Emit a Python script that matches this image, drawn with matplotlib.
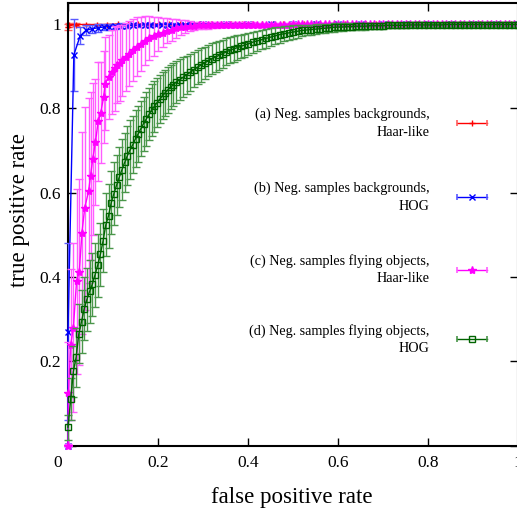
import matplotlib
matplotlib.use('Agg')
import matplotlib.pyplot as plt
import matplotlib.transforms as mtransforms

plt.rcParams['font.family'] = ['Liberation Serif', 'DejaVu Serif']

# (a) backgrounds, Haar-like
red_x = [0.0, 0.002, 0.018, 0.041, 0.064, 0.087, 0.11, 0.133, 0.156, 0.179,
         0.202, 0.225, 0.248, 0.271, 0.294, 0.317, 0.34, 0.363, 0.386, 0.409,
         0.432, 0.455, 0.478, 0.501, 0.524, 0.547, 0.57, 0.593, 0.616, 0.639,
         0.662, 0.685, 0.708, 0.731, 0.754, 0.777, 0.8, 0.823, 0.846, 0.869,
         0.892, 0.915, 0.938, 0.961, 0.984, 1.0]
red_y = [0.994, 0.998, 0.999, 0.999, 0.999, 0.999, 1.0, 1.0, 1.0, 1.0,
         1.0, 1.0, 1.0, 1.0, 1.0, 1.0, 1.0, 1.0, 1.0, 1.0,
         1.0, 1.0, 1.0, 1.0, 1.0, 1.0, 1.0, 1.0, 1.0, 1.0,
         1.0, 1.0, 1.0, 1.0, 1.0, 1.0, 1.0, 1.0, 1.0, 1.0,
         1.0, 1.0, 1.0, 1.0, 1.0, 1.0]
red_err = [0.007, 0.004, 0.003, 0.002, 0.002, 0.002, 0.001, 0.001, 0.001, 0.001,
           0.001, 0.001, 0.001, 0.001, 0.001, 0.001, 0.001, 0.001, 0.001, 0.001,
           0.001, 0.001, 0.001, 0.001, 0.001, 0.001, 0.001, 0.001, 0.001, 0.001,
           0.001, 0.001, 0.001, 0.001, 0.001, 0.001, 0.001, 0.001, 0.001, 0.001,
           0.001, 0.001, 0.001, 0.001, 0.001, 0.001]

# (b) backgrounds, HOG
blue_x = [0.0, 0.0, 0.013, 0.027, 0.04, 0.053, 0.066, 0.079, 0.092, 0.105,
          0.118, 0.131, 0.144, 0.157, 0.17, 0.183, 0.196, 0.209, 0.222, 0.235,
          0.248, 0.261, 0.274, 0.3, 0.35, 0.4, 0.45, 0.5, 0.55, 0.6,
          0.65, 0.7, 0.75, 0.8, 0.85, 0.9, 0.95, 1.0]
blue_y = [0.0, 0.27, 0.927, 0.972, 0.985, 0.989, 0.991, 0.993, 0.994, 0.995,
          0.996, 0.996, 0.997, 0.997, 0.998, 0.998, 0.998, 0.999, 0.999, 0.999,
          0.999, 0.999, 1.0, 1.0, 1.0, 1.0, 1.0, 1.0, 1.0, 1.0,
          1.0, 1.0, 1.0, 1.0, 1.0, 1.0, 1.0, 1.0]
blue_err = [0.0, 0.21, 0.085, 0.02, 0.012, 0.01, 0.009, 0.008, 0.007, 0.006,
            0.006, 0.005, 0.005, 0.004, 0.004, 0.004, 0.003, 0.003, 0.003, 0.003,
            0.002, 0.002, 0.002, 0.002, 0.001, 0.001, 0.001, 0.001, 0.001, 0.001,
            0.001, 0.001, 0.001, 0.001, 0.001, 0.001, 0.001, 0.001]

# (c) flying objects, Haar-like
mag_x = [0.0, 0.001, 0.006, 0.012, 0.019, 0.025, 0.031, 0.037, 0.046, 0.05,
         0.055, 0.061, 0.067, 0.073, 0.079, 0.083, 0.09, 0.098, 0.104, 0.109,
         0.115, 0.12, 0.128, 0.135, 0.144, 0.153, 0.162, 0.171, 0.18, 0.19,
         0.2, 0.21, 0.22, 0.23, 0.24, 0.25, 0.26, 0.27, 0.28, 0.29,
         0.3, 0.31, 0.32, 0.33, 0.34, 0.35, 0.36, 0.37, 0.38, 0.39,
         0.4, 0.41, 0.42, 0.43, 0.44, 0.45, 0.46, 0.47, 0.48, 0.49,
         0.5, 0.51, 0.52, 0.53, 0.54, 0.55, 0.56, 0.57, 0.58, 0.59,
         0.6, 0.61, 0.62, 0.63, 0.64, 0.65, 0.66, 0.67, 0.68, 0.69,
         0.7, 0.71, 0.72, 0.73, 0.74, 0.75, 0.76, 0.77, 0.78, 0.79,
         0.8, 0.81, 0.82, 0.83, 0.84, 0.85, 0.86, 0.87, 0.88, 0.89,
         0.9, 0.91, 0.92, 0.93, 0.94, 0.95, 0.96, 0.97, 0.98, 0.99, 1.0]
mag_y = [0.0, 0.125, 0.24, 0.28, 0.39, 0.412, 0.505, 0.563, 0.605, 0.64,
         0.68, 0.72, 0.769, 0.79, 0.827, 0.859, 0.875, 0.886, 0.895, 0.902,
         0.908, 0.914, 0.922, 0.93, 0.938, 0.946, 0.953, 0.96, 0.966, 0.971,
         0.976, 0.98, 0.984, 0.987, 0.99, 0.992, 0.994, 0.995, 0.996, 0.997,
         0.997, 0.997, 0.998, 0.998, 0.998, 0.998, 0.998, 0.999, 0.999, 0.999,
         0.999, 0.999, 0.999, 0.999, 0.999, 0.999, 0.999, 0.999, 0.999, 0.999,
         1.0, 1.0, 1.0, 1.0, 1.0, 1.0, 1.0, 1.0, 1.0, 1.0,
         1.0, 1.0, 1.0, 1.0, 1.0, 1.0, 1.0, 1.0, 1.0, 1.0,
         1.0, 1.0, 1.0, 1.0, 1.0, 1.0, 1.0, 1.0, 1.0, 1.0,
         1.0, 1.0, 1.0, 1.0, 1.0, 1.0, 1.0, 1.0, 1.0, 1.0,
         1.0, 1.0, 1.0, 1.0, 1.0, 1.0, 1.0, 1.0, 1.0, 1.0, 1.0]
mag_err = [0.0, 0.12, 0.18, 0.2, 0.22, 0.22, 0.24, 0.24, 0.22, 0.2,
           0.18, 0.15, 0.14, 0.12, 0.11, 0.11, 0.1, 0.1, 0.1, 0.09,
           0.09, 0.085, 0.08, 0.077, 0.074, 0.07, 0.064, 0.058, 0.052, 0.046,
           0.04, 0.035, 0.03, 0.026, 0.022, 0.018, 0.015, 0.012, 0.01, 0.009,
           0.008, 0.008, 0.007, 0.007, 0.006, 0.006, 0.006, 0.005, 0.005, 0.005,
           0.005, 0.005, 0.004, 0.004, 0.004, 0.004, 0.004, 0.004, 0.004, 0.004,
           0.004, 0.003, 0.003, 0.003, 0.003, 0.003, 0.003, 0.003, 0.003, 0.003,
           0.003, 0.003, 0.003, 0.003, 0.003, 0.003, 0.003, 0.003, 0.003, 0.003,
           0.003, 0.003, 0.003, 0.003, 0.003, 0.003, 0.003, 0.003, 0.003, 0.003,
           0.003, 0.003, 0.003, 0.003, 0.003, 0.003, 0.003, 0.003, 0.003, 0.003,
           0.003, 0.003, 0.003, 0.003, 0.003, 0.003, 0.003, 0.003, 0.003, 0.003, 0.003]

# (d) flying objects, HOG
grn_x = [0.0, 0.006, 0.012, 0.018, 0.024, 0.03, 0.036, 0.042, 0.048, 0.054,
         0.06, 0.066, 0.072, 0.078, 0.084, 0.09, 0.096, 0.102, 0.108, 0.114,
         0.12, 0.126, 0.132, 0.138, 0.144, 0.15, 0.156, 0.162, 0.168, 0.174,
         0.18, 0.186, 0.192, 0.198, 0.204, 0.21, 0.216, 0.222, 0.228, 0.234,
         0.24, 0.248, 0.256, 0.264, 0.272, 0.28, 0.288, 0.296, 0.304, 0.312,
         0.32, 0.328, 0.336, 0.344, 0.352, 0.36, 0.368, 0.376, 0.384, 0.392,
         0.4, 0.41, 0.42, 0.43, 0.44, 0.45, 0.46, 0.47, 0.48, 0.49,
         0.5, 0.51, 0.52, 0.53, 0.54, 0.55, 0.56, 0.57, 0.58, 0.59,
         0.6, 0.61, 0.62, 0.63, 0.64, 0.65, 0.66, 0.67, 0.68, 0.69,
         0.7, 0.71, 0.72, 0.73, 0.74, 0.75, 0.76, 0.77, 0.78, 0.79,
         0.8, 0.81, 0.82, 0.83, 0.84, 0.85, 0.86, 0.87, 0.88, 0.89,
         0.9, 0.91, 0.92, 0.93, 0.94, 0.95, 0.96, 0.97, 0.98, 0.99, 1.0]
grn_y = [0.044, 0.111, 0.176, 0.21, 0.265, 0.294, 0.325, 0.347, 0.366, 0.383,
         0.405, 0.428, 0.454, 0.486, 0.524, 0.545, 0.576, 0.598, 0.618, 0.637,
         0.655, 0.672, 0.688, 0.702, 0.714, 0.728, 0.74, 0.752, 0.764, 0.775,
         0.786, 0.796, 0.805, 0.814, 0.822, 0.83, 0.837, 0.844, 0.85, 0.856,
         0.862, 0.868, 0.874, 0.88, 0.886, 0.892, 0.898, 0.903, 0.908, 0.913,
         0.918, 0.922, 0.926, 0.93, 0.934, 0.938, 0.941, 0.944, 0.947, 0.95,
         0.953, 0.957, 0.96, 0.963, 0.966, 0.969, 0.972, 0.975, 0.977, 0.979,
         0.981, 0.983, 0.985, 0.986, 0.987, 0.988, 0.989, 0.99, 0.991, 0.992,
         0.993, 0.993, 0.994, 0.994, 0.995, 0.995, 0.995, 0.996, 0.996, 0.996,
         0.996, 0.997, 0.997, 0.997, 0.997, 0.997, 0.998, 0.998, 0.998, 0.998,
         0.998, 0.998, 0.998, 0.998, 0.999, 0.999, 0.999, 0.999, 0.999, 0.999,
         0.999, 0.999, 0.999, 0.999, 0.999, 0.999, 0.999, 0.999, 0.999, 0.999, 0.999]
grn_err = [0.03, 0.05, 0.06, 0.07, 0.07, 0.075, 0.075, 0.075, 0.075, 0.075,
           0.075, 0.075, 0.075, 0.075, 0.075, 0.075, 0.075, 0.075, 0.072, 0.072,
           0.072, 0.07, 0.07, 0.07, 0.068, 0.068, 0.066, 0.065, 0.064, 0.063,
           0.062, 0.061, 0.06, 0.058, 0.057, 0.056, 0.055, 0.054, 0.052, 0.051,
           0.05, 0.048, 0.047, 0.045, 0.044, 0.042, 0.041, 0.04, 0.038, 0.037,
           0.036, 0.035, 0.034, 0.033, 0.032, 0.031, 0.03, 0.029, 0.028, 0.027,
           0.026, 0.025, 0.024, 0.023, 0.022, 0.021, 0.02, 0.019, 0.018, 0.017,
           0.016, 0.015, 0.014, 0.013, 0.012, 0.012, 0.011, 0.011, 0.01, 0.01,
           0.009, 0.009, 0.009, 0.008, 0.008, 0.008, 0.008, 0.007, 0.007, 0.007,
           0.007, 0.007, 0.006, 0.006, 0.006, 0.006, 0.006, 0.006, 0.006, 0.006,
           0.005, 0.005, 0.005, 0.005, 0.005, 0.005, 0.005, 0.005, 0.005, 0.005,
           0.005, 0.005, 0.005, 0.005, 0.005, 0.005, 0.005, 0.005, 0.005, 0.005, 0.005]

labels = ['(a) Neg. samples backgrounds,\nHaar-like',
          '(b) Neg. samples backgrounds,\nHOG',
          '(c) Neg. samples flying objects,\nHaar-like',
          '(d) Neg. samples flying objects,\nHOG']

fig = plt.figure(figsize=(5.17, 5.16), dpi=100)
ax = fig.add_axes([68 / 517, 70.3 / 516, 450 / 517, 442.7 / 516])

# data, line colour, bar colour, marker, size, face
series = [
    (red_x, red_y, red_err, '#ff0000', '#ff6060', '+', 5, '#ff0000'),
    (blue_x, blue_y, blue_err, '#0000ff', '#5a5aff', 'x', 4.5, '#0000ff'),
    (mag_x, mag_y, mag_err, '#ff00ff', '#ff5cff', '*', 6, '#ff00ff'),
    (grn_x, grn_y, grn_err, '#006400', '#4a964a', 's', 4.2, 'none'),
]

legend_y = [0.728, 0.561, 0.398, 0.240]

for i, (x, y, e, c, light, m, ms, mfc) in enumerate(series):
    line, caps, bars = ax.errorbar(x, y, yerr=e, color=c, ecolor=light,
                                   marker=m, ms=ms, mfc=mfc, mec=c, mew=1.0,
                                   lw=1.0, elinewidth=1.0, capsize=3.2,
                                   capthick=1.4, zorder=2 + i, clip_on=False)
    for cap in caps:
        cap.set_color(c)
        cap.set_clip_on(False)
    for b in bars:
        b.set_clip_on(False)

    # gnuplot-style key entry
    ly = legend_y[i]
    ax.text(0.804, ly, labels[i], transform=ax.transAxes, ha='right',
            va='center', multialignment='right', fontsize=10.2, linespacing=1.45)
    ax.plot([0.864, 0.931], [ly, ly], color=c, lw=1.0, transform=ax.transAxes)
    ax.plot([0.864, 0.931], [ly, ly], ls='none', marker='|', ms=5,
            mew=1.2, color=light, transform=ax.transAxes)
    ax.plot([0.8975], [ly], ls='none', marker=m, ms=ms, mfc=mfc, mec=c,
            mew=1.0, transform=ax.transAxes)

ax.set_xlim(0, 1)
ax.set_ylim(0, 1.05)
ax.set_xticks([0, 0.2, 0.4, 0.6, 0.8, 1.0])
ax.set_xticklabels(['0', '0.2', '0.4', '0.6', '0.8', '1'])
ax.set_yticks([0, 0.2, 0.4, 0.6, 0.8, 1.0])
ax.set_yticklabels(['', '0.2', '0.4', '0.6', '0.8', '1'])
ax.tick_params(direction='in', length=6, width=1, top=True, right=True,
               labelsize=12.5, colors='black')
ax.tick_params(axis='x', pad=7)
ax.tick_params(axis='y', pad=5)

# shift the "0" label a bit to the left, as in the original
lbl0 = ax.get_xticklabels()[0]
lbl0.set_transform(lbl0.get_transform() +
                   mtransforms.ScaledTranslation(-10 / 100, 0, fig.dpi_scale_trans))

for s in ax.spines.values():
    s.set_linewidth(1.5)

ax.set_xlabel('false positive rate', fontsize=16.5)
ax.set_ylabel('true positive rate', fontsize=16.5)
ax.xaxis.set_label_coords(0.497, -0.116)
ax.xaxis.label.set_va('center')
ax.yaxis.set_label_coords(-0.107, 0.532)
ax.yaxis.label.set_va('center')

fig.savefig('out.png', dpi=100)
